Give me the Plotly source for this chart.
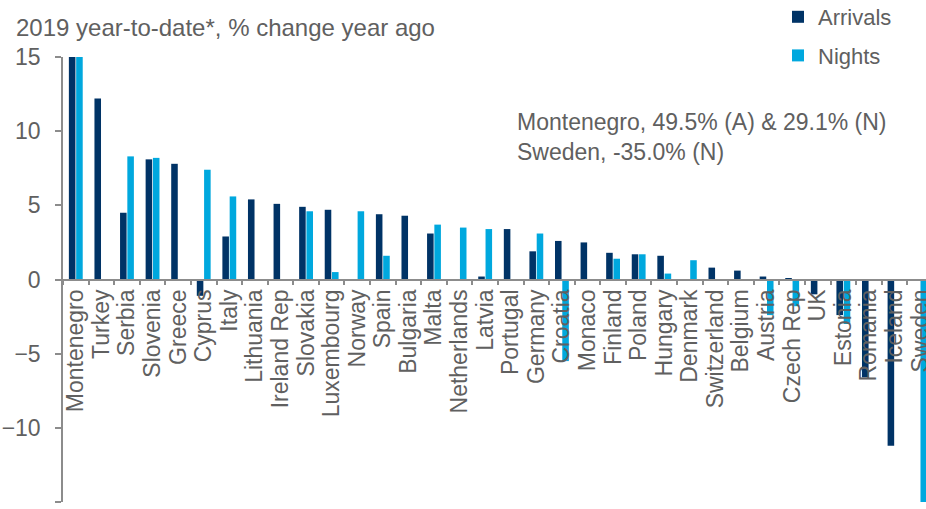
import plotly.graph_objects as go

countries = ["Montenegro", "Turkey", "Serbia", "Slovenia", "Greece", "Cyprus", "Italy",
             "Lithuania", "Ireland Rep", "Slovakia", "Luxembourg", "Norway", "Spain",
             "Bulgaria", "Malta", "Netherlands", "Latvia", "Portugal", "Germany", "Croatia",
             "Monaco", "Finland", "Poland", "Hungary", "Denmark", "Switzerland", "Belgium",
             "Austria", "Czech Rep", "UK", "Estonia", "Romania", "Iceland", "Sweden"]
arrivals = [49.5, 12.2, 4.5, 8.1, 7.8, -1.1, 2.9, 5.4, 5.1, 4.9, 4.7, None, 4.4,
            4.3, 3.1, None, 0.2, 3.4, 1.9, 2.6, 2.5, 1.8, 1.7, 1.6, None, 0.8, 0.6,
            0.2, 0.1, -1.0, -2.4, -6.6, -11.2, None]
nights = [29.1, None, 8.3, 8.2, None, 7.4, 5.6, None, None, 4.6, 0.5, 4.6, 1.6,
          None, 3.7, 3.5, 3.4, -0.1, 3.1, -5.5, None, 1.4, 1.7, 0.4, 1.3, -0.1, None,
          -2.4, -1.8, None, -3.0, None, None, -35.0]
y_ticks = [-15, -10, -5, 0, 5, 10, 15]

DARK = "#003366"
LIGHT = "#00A8DE"
GRAY = "#8c8c8c"
TXT = "#606060"
FONT = "Liberation Sans, Arial, sans-serif"

fig = go.Figure()
fig.add_trace(go.Bar(x=countries, y=arrivals, name="Arrivals", marker_color=DARK,
                     marker_line_width=0, legendgroup="a"))
fig.add_trace(go.Bar(x=countries, y=nights, name="Nights", marker_color=LIGHT,
                     marker_line_width=0, legendgroup="n"))

fig.update_layout(
    width=926, height=509,
    margin=dict(l=63, r=0, t=57, b=7, autoexpand=False),
    paper_bgcolor="white", plot_bgcolor="white",
    font=dict(family=FONT, color=TXT, size=22),
    barmode="group", bargap=0.43, bargroupgap=0.1,
    showlegend=True,
    legend=dict(x=(778-63)/863, y=1 + 61/445, xanchor="left", yanchor="top",
                font=dict(size=22, color=TXT), tracegroupgap=7,
                bgcolor="rgba(0,0,0,0)", itemwidth=30),
    xaxis=dict(
        type="category", range=[-0.5, 33.23],
        tickmode="array", tickvals=countries, ticktext=countries,
        anchor="free", position=0.5, automargin=False,
        showline=True, linecolor=GRAY, linewidth=1.5,
        ticks="outside", tickson="boundaries", ticklen=5, tickcolor=GRAY, tickwidth=1.5,
        tickangle=-90, tickfont=dict(size=23, color=TXT),
        showgrid=False, zeroline=False,
    ),
    yaxis=dict(
        range=[-15, 15], tickvals=y_ticks, automargin=False,
        showline=True, linecolor=GRAY, linewidth=1.5,
        ticks="outside", ticklen=6, tickcolor=GRAY, tickwidth=1.5,
        tickfont=dict(size=23, color=TXT), ticklabelstandoff=10,
        showgrid=False, zeroline=False,
    ),
    annotations=[
        dict(text="2019 year-to-date*, % change year ago", xref="paper", yref="paper",
             x=-49/863, y=1 + 30/445, xanchor="left", yanchor="middle",
             showarrow=False, font=dict(size=24, color=TXT)),
        dict(text="Montenegro, 49.5% (A) & 29.1% (N)<br>Sweden, -35.0% (N)",
             xref="paper", yref="paper", x=(515-63)/863, y=(502-137)/445,
             xanchor="left", yanchor="middle", align="left",
             showarrow=False, font=dict(size=23, color=TXT)),
    ],
)

# remove the browser's default 8px body margin so the figure fills the window
fig.write_html("out.html",
               config={"displayModeBar": False},
               post_script="document.body.style.margin='0';document.body.style.overflow='hidden';")
